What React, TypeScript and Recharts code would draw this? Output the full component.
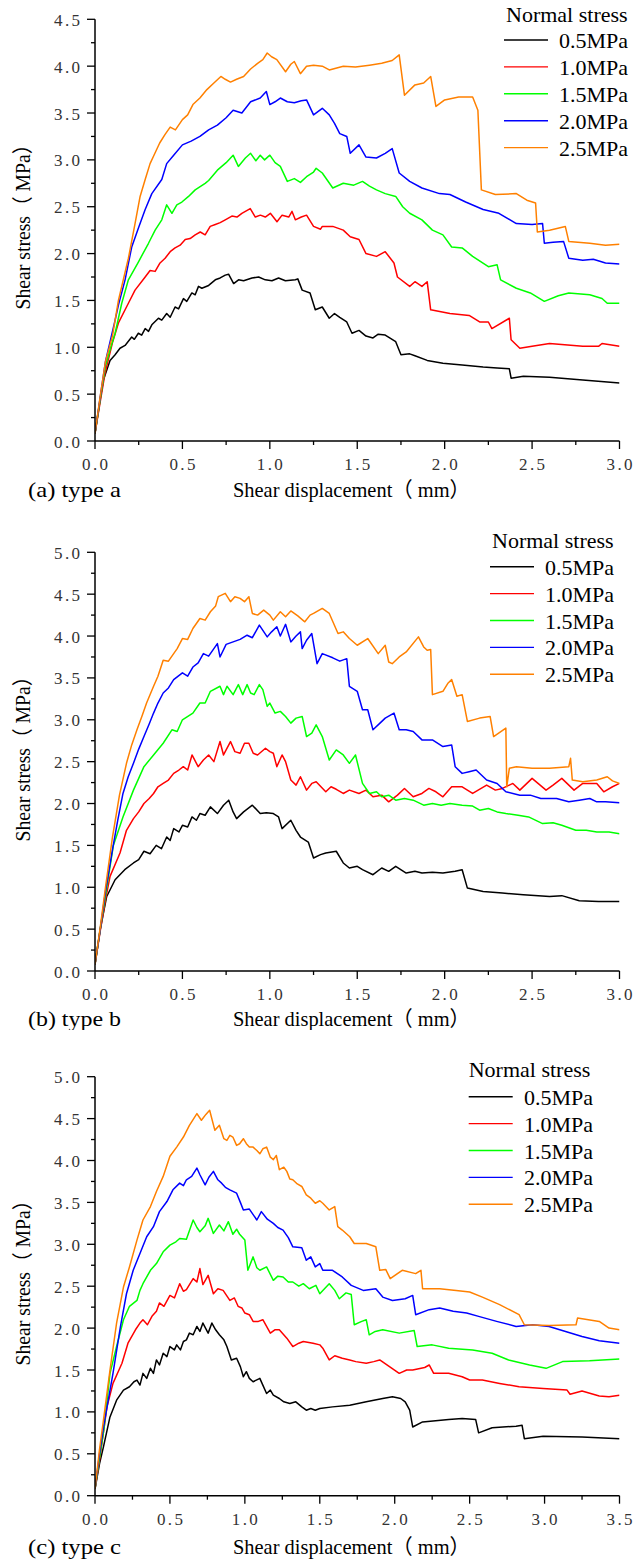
import { LineChart, Line, XAxis, YAxis, Label, Legend } from "recharts";

// Shear stress vs shear displacement, three joint types, five normal stresses each.
type Pt = [number, number];

const names = ["0.5MPa", "1.0MPa", "1.5MPa", "2.0MPa", "2.5MPa"];
const colors = ["#000000", "#ff0000", "#00ff00", "#0000ff", "#ff8000"];

// ---- (a) type a
const a05: Pt[] = [[0,0.08],[0.03,0.45],[0.048,0.65],[0.086,0.86],[0.115,0.92],[0.143,0.99],[0.172,1.02],[0.21,1.11],[0.225,1.085],[0.248,1.15],[0.267,1.13],[0.287,1.2],[0.306,1.17],[0.325,1.24],[0.363,1.31],[0.382,1.29],[0.41,1.36],[0.43,1.32],[0.458,1.43],[0.478,1.41],[0.506,1.52],[0.525,1.49],[0.554,1.58],[0.573,1.56],[0.592,1.65],[0.611,1.63],[0.65,1.66],[0.688,1.72],[0.716,1.74],[0.745,1.77],[0.764,1.78],[0.793,1.68],[0.821,1.72],[0.85,1.71],[0.898,1.74],[0.936,1.75],[0.974,1.72],[1.012,1.71],[1.05,1.74],[1.089,1.71],[1.146,1.72],[1.16,1.73],[1.185,1.61],[1.23,1.58],[1.26,1.4],[1.3,1.43],[1.34,1.31],[1.37,1.36],[1.4,1.32],[1.44,1.27],[1.47,1.15],[1.51,1.18],[1.55,1.12],[1.59,1.1],[1.62,1.14],[1.66,1.13],[1.72,1.06],[1.75,0.92],[1.8,0.93],[1.83,0.91],[1.9,0.86],[1.99,0.83],[2.1,0.81],[2.22,0.79],[2.3,0.78],[2.37,0.77],[2.38,0.67],[2.45,0.69],[2.6,0.68],[2.79,0.65],[3.0,0.62]];
const a10: Pt[] = [[0,0.08],[0.03,0.42],[0.057,0.72],[0.1,1.05],[0.134,1.26],[0.191,1.47],[0.229,1.61],[0.287,1.75],[0.315,1.82],[0.344,1.81],[0.372,1.9],[0.401,1.95],[0.43,2.02],[0.458,2.06],[0.487,2.09],[0.516,2.15],[0.544,2.16],[0.573,2.2],[0.602,2.23],[0.63,2.2],[0.659,2.29],[0.688,2.31],[0.716,2.33],[0.745,2.36],[0.783,2.4],[0.812,2.39],[0.84,2.43],[0.888,2.48],[0.917,2.39],[0.946,2.41],[0.974,2.39],[1.003,2.43],[1.041,2.34],[1.07,2.41],[1.108,2.39],[1.127,2.45],[1.146,2.36],[1.18,2.39],[1.21,2.41],[1.25,2.29],[1.29,2.26],[1.3,2.29],[1.36,2.29],[1.42,2.25],[1.46,2.18],[1.51,2.15],[1.55,2.0],[1.61,1.97],[1.66,2.02],[1.71,1.9],[1.73,1.75],[1.8,1.65],[1.83,1.7],[1.87,1.65],[1.9,1.7],[1.92,1.4],[2.03,1.36],[2.14,1.34],[2.2,1.27],[2.25,1.27],[2.27,1.2],[2.37,1.31],[2.38,1.08],[2.43,0.99],[2.5,1.01],[2.6,1.04],[2.79,1.01],[2.88,1.01],[2.9,1.04],[3.0,1.01]];
const a15: Pt[] = [[0,0.08],[0.03,0.45],[0.06,0.8],[0.09,1.0],[0.115,1.15],[0.153,1.47],[0.191,1.72],[0.248,1.91],[0.306,2.11],[0.344,2.25],[0.382,2.36],[0.41,2.52],[0.44,2.43],[0.468,2.52],[0.497,2.55],[0.535,2.61],[0.573,2.68],[0.63,2.75],[0.65,2.78],[0.7,2.89],[0.75,2.97],[0.79,3.05],[0.82,2.93],[0.86,3.02],[0.89,3.07],[0.92,2.99],[0.945,3.05],[0.97,3.0],[1.0,3.05],[1.03,2.97],[1.06,2.93],[1.1,2.77],[1.14,2.8],[1.175,2.76],[1.21,2.82],[1.25,2.87],[1.265,2.91],[1.3,2.86],[1.36,2.7],[1.42,2.75],[1.48,2.73],[1.53,2.77],[1.57,2.72],[1.61,2.68],[1.66,2.64],[1.72,2.61],[1.76,2.5],[1.8,2.43],[1.87,2.36],[1.93,2.25],[1.99,2.2],[2.04,2.07],[2.1,2.06],[2.16,1.97],[2.25,1.86],[2.3,1.88],[2.32,1.72],[2.41,1.63],[2.49,1.58],[2.57,1.49],[2.65,1.55],[2.71,1.58],[2.83,1.56],[2.9,1.52],[2.93,1.47],[3.0,1.47]];
const a20: Pt[] = [[0,0.08],[0.03,0.47],[0.06,0.85],[0.115,1.29],[0.134,1.45],[0.172,1.72],[0.21,2.07],[0.248,2.27],[0.287,2.47],[0.325,2.64],[0.382,2.79],[0.41,2.96],[0.45,3.05],[0.5,3.16],[0.55,3.2],[0.6,3.25],[0.65,3.32],[0.7,3.37],[0.75,3.45],[0.79,3.53],[0.84,3.5],[0.89,3.62],[0.945,3.66],[0.98,3.73],[1.0,3.59],[1.03,3.62],[1.06,3.66],[1.1,3.62],[1.14,3.61],[1.18,3.63],[1.21,3.64],[1.25,3.48],[1.3,3.55],[1.34,3.48],[1.37,3.39],[1.4,3.28],[1.44,3.25],[1.46,3.07],[1.51,3.16],[1.55,3.03],[1.61,3.02],[1.66,3.07],[1.7,3.12],[1.74,2.86],[1.8,2.77],[1.87,2.7],[1.97,2.64],[2.03,2.63],[2.12,2.55],[2.22,2.47],[2.31,2.43],[2.41,2.32],[2.5,2.31],[2.56,2.32],[2.57,2.11],[2.62,2.12],[2.68,2.13],[2.71,1.95],[2.79,1.93],[2.85,1.94],[2.92,1.9],[3.0,1.89]];
const a25: Pt[] = [[0,0.08],[0.03,0.48],[0.06,0.85],[0.1,1.12],[0.134,1.5],[0.191,1.95],[0.229,2.32],[0.258,2.61],[0.287,2.79],[0.315,2.96],[0.34,3.06],[0.37,3.18],[0.4,3.27],[0.43,3.35],[0.46,3.32],[0.5,3.43],[0.53,3.48],[0.56,3.59],[0.6,3.66],[0.64,3.75],[0.68,3.82],[0.72,3.89],[0.745,3.86],[0.775,3.83],[0.81,3.86],[0.85,3.89],[0.89,3.97],[0.93,4.03],[0.96,4.07],[0.985,4.14],[1.01,4.1],[1.04,4.07],[1.09,3.94],[1.12,4.02],[1.14,4.05],[1.175,3.92],[1.21,4.0],[1.25,4.01],[1.3,4.0],[1.34,3.96],[1.42,4.0],[1.49,3.99],[1.57,4.01],[1.64,4.03],[1.7,4.06],[1.74,4.12],[1.77,3.69],[1.83,3.8],[1.88,3.82],[1.92,3.89],[1.95,3.57],[2.0,3.64],[2.08,3.67],[2.16,3.67],[2.19,3.53],[2.21,2.68],[2.29,2.63],[2.41,2.64],[2.47,2.57],[2.52,2.54],[2.53,2.23],[2.6,2.25],[2.69,2.29],[2.71,2.13],[2.83,2.11],[2.92,2.09],[3.0,2.1]];

// ---- (b) type b
const b05: Pt[] = [[0,0.08],[0.03,0.5],[0.067,0.89],[0.115,1.09],[0.17,1.21],[0.22,1.29],[0.25,1.33],[0.28,1.43],[0.315,1.4],[0.35,1.5],[0.38,1.46],[0.41,1.6],[0.43,1.56],[0.45,1.7],[0.48,1.66],[0.5,1.74],[0.53,1.72],[0.555,1.84],[0.58,1.8],[0.6,1.88],[0.63,1.86],[0.66,1.96],[0.7,1.88],[0.735,1.98],[0.765,2.04],[0.79,1.9],[0.81,1.82],[0.85,1.9],[0.9,1.98],[0.945,1.88],[0.98,1.89],[1.02,1.88],[1.05,1.84],[1.07,1.7],[1.12,1.8],[1.15,1.68],[1.175,1.6],[1.22,1.54],[1.25,1.35],[1.29,1.39],[1.32,1.41],[1.38,1.43],[1.42,1.29],[1.455,1.23],[1.5,1.25],[1.53,1.21],[1.59,1.15],[1.64,1.23],[1.68,1.19],[1.72,1.25],[1.78,1.17],[1.83,1.19],[1.87,1.17],[1.93,1.18],[1.99,1.17],[2.06,1.19],[2.1,1.21],[2.13,0.99],[2.22,0.95],[2.33,0.93],[2.45,0.91],[2.6,0.89],[2.67,0.9],[2.77,0.84],[2.88,0.83],[3.0,0.83]];
const b10: Pt[] = [[0,0.08],[0.03,0.48],[0.06,0.85],[0.086,1.13],[0.143,1.41],[0.18,1.68],[0.22,1.82],[0.25,1.9],[0.28,2.0],[0.31,2.06],[0.335,2.12],[0.36,2.2],[0.39,2.24],[0.42,2.28],[0.45,2.36],[0.48,2.4],[0.505,2.44],[0.53,2.4],[0.555,2.58],[0.59,2.44],[0.62,2.52],[0.65,2.58],[0.68,2.5],[0.715,2.74],[0.735,2.58],[0.775,2.74],[0.8,2.62],[0.83,2.6],[0.855,2.72],[0.88,2.72],[0.905,2.6],[0.93,2.58],[0.975,2.66],[1.0,2.62],[1.02,2.6],[1.04,2.44],[1.07,2.58],[1.09,2.5],[1.12,2.28],[1.15,2.22],[1.175,2.32],[1.21,2.16],[1.24,2.24],[1.265,2.26],[1.32,2.14],[1.35,2.2],[1.38,2.17],[1.42,2.12],[1.455,2.16],[1.51,2.12],[1.55,2.16],[1.59,2.08],[1.64,2.1],[1.68,2.02],[1.73,2.1],[1.77,2.18],[1.82,2.08],[1.87,2.12],[1.91,2.18],[1.95,2.14],[1.99,2.08],[2.04,2.2],[2.1,2.2],[2.16,2.12],[2.24,2.22],[2.29,2.16],[2.33,2.18],[2.39,2.24],[2.43,2.16],[2.5,2.3],[2.58,2.16],[2.62,2.22],[2.67,2.3],[2.74,2.16],[2.79,2.24],[2.87,2.24],[2.91,2.14],[2.96,2.2],[3.0,2.24]];
const b15: Pt[] = [[0,0.08],[0.03,0.5],[0.06,0.9],[0.105,1.5],[0.16,1.84],[0.22,2.16],[0.28,2.44],[0.335,2.58],[0.39,2.72],[0.44,2.88],[0.47,2.86],[0.5,3.0],[0.56,3.08],[0.6,3.2],[0.63,3.2],[0.66,3.34],[0.715,3.4],[0.735,3.3],[0.755,3.4],[0.79,3.3],[0.82,3.42],[0.845,3.3],[0.87,3.42],[0.89,3.32],[0.91,3.3],[0.94,3.42],[0.96,3.36],[0.985,3.16],[1.0,3.2],[1.03,3.08],[1.06,3.1],[1.09,3.04],[1.12,2.96],[1.15,3.02],[1.185,3.04],[1.21,2.8],[1.24,2.84],[1.265,2.94],[1.3,2.8],[1.34,2.52],[1.38,2.64],[1.42,2.58],[1.455,2.48],[1.49,2.58],[1.53,2.24],[1.57,2.12],[1.61,2.14],[1.64,2.08],[1.68,2.1],[1.72,2.04],[1.77,2.06],[1.82,2.04],[1.88,1.98],[1.93,2.0],[1.98,1.98],[2.03,2.0],[2.1,1.98],[2.16,1.97],[2.2,1.92],[2.25,1.94],[2.3,1.9],[2.35,1.88],[2.42,1.86],[2.48,1.84],[2.56,1.76],[2.62,1.77],[2.67,1.74],[2.75,1.68],[2.81,1.68],[2.87,1.66],[2.94,1.66],[3.0,1.64]];
const b20: Pt[] = [[0,0.08],[0.03,0.5],[0.06,0.95],[0.1,1.45],[0.13,1.8],[0.16,2.12],[0.19,2.32],[0.22,2.48],[0.25,2.65],[0.28,2.8],[0.31,2.95],[0.335,3.08],[0.36,3.2],[0.39,3.32],[0.42,3.38],[0.45,3.48],[0.5,3.56],[0.53,3.52],[0.56,3.63],[0.59,3.68],[0.62,3.79],[0.65,3.76],[0.7,3.91],[0.715,3.75],[0.75,3.9],[0.79,3.93],[0.83,3.96],[0.87,4.01],[0.9,3.98],[0.94,4.13],[0.985,3.99],[1.01,4.05],[1.04,4.11],[1.06,4.0],[1.09,4.14],[1.12,3.93],[1.15,4.0],[1.175,4.05],[1.185,3.85],[1.21,3.95],[1.24,4.03],[1.27,3.67],[1.3,3.79],[1.36,3.74],[1.4,3.7],[1.44,3.73],[1.455,3.4],[1.5,3.34],[1.53,3.12],[1.56,3.12],[1.59,2.88],[1.63,2.96],[1.66,3.02],[1.71,3.08],[1.74,2.88],[1.78,2.88],[1.82,2.86],[1.87,2.76],[1.93,2.76],[1.99,2.68],[2.04,2.7],[2.06,2.44],[2.1,2.36],[2.14,2.38],[2.18,2.4],[2.24,2.28],[2.3,2.24],[2.35,2.14],[2.43,2.1],[2.49,2.1],[2.55,2.06],[2.64,2.06],[2.71,2.02],[2.77,2.04],[2.83,2.06],[2.87,2.02],[2.92,2.02],[3.0,2.01]];
const b25: Pt[] = [[0,0.08],[0.03,0.52],[0.06,1.0],[0.1,1.6],[0.14,2.1],[0.18,2.48],[0.21,2.7],[0.24,2.88],[0.27,3.05],[0.295,3.2],[0.335,3.4],[0.36,3.52],[0.39,3.71],[0.42,3.7],[0.45,3.79],[0.47,3.85],[0.5,3.97],[0.53,3.96],[0.56,4.09],[0.6,4.21],[0.63,4.19],[0.66,4.29],[0.69,4.36],[0.705,4.47],[0.745,4.51],[0.775,4.41],[0.8,4.47],[0.83,4.45],[0.855,4.41],[0.88,4.47],[0.9,4.27],[0.93,4.25],[0.965,4.31],[1.0,4.25],[1.02,4.19],[1.06,4.29],[1.09,4.23],[1.12,4.3],[1.16,4.24],[1.2,4.17],[1.23,4.25],[1.25,4.27],[1.3,4.33],[1.34,4.27],[1.39,4.03],[1.42,4.05],[1.455,3.97],[1.5,3.89],[1.56,3.97],[1.62,3.79],[1.66,3.89],[1.68,3.69],[1.7,3.67],[1.74,3.75],[1.78,3.81],[1.85,3.99],[1.88,3.87],[1.9,3.83],[1.92,3.84],[1.93,3.3],[1.99,3.34],[2.02,3.44],[2.04,3.48],[2.07,3.28],[2.1,3.3],[2.13,2.98],[2.2,3.02],[2.26,3.04],[2.28,2.8],[2.35,2.9],[2.355,2.2],[2.37,2.42],[2.41,2.44],[2.5,2.42],[2.6,2.42],[2.71,2.44],[2.72,2.54],[2.73,2.28],[2.79,2.26],[2.87,2.28],[2.93,2.32],[2.96,2.27],[3.0,2.24]];

// ---- (c) type c
const c05: Pt[] = [[0,0.08],[0.03,0.38],[0.056,0.58],[0.1,0.94],[0.144,1.14],[0.19,1.26],[0.23,1.3],[0.26,1.36],[0.28,1.38],[0.3,1.32],[0.32,1.46],[0.345,1.4],[0.37,1.52],[0.39,1.46],[0.41,1.62],[0.43,1.56],[0.455,1.7],[0.48,1.66],[0.5,1.78],[0.53,1.74],[0.545,1.8],[0.57,1.74],[0.59,1.84],[0.61,1.86],[0.63,1.94],[0.655,1.92],[0.68,2.02],[0.7,1.96],[0.72,2.06],[0.755,1.94],[0.78,2.06],[0.805,1.98],[0.83,1.92],[0.86,1.86],[0.88,1.78],[0.91,1.62],[0.945,1.64],[0.97,1.54],[0.99,1.42],[1.01,1.48],[1.03,1.4],[1.055,1.36],[1.1,1.4],[1.12,1.32],[1.145,1.22],[1.17,1.26],[1.19,1.2],[1.23,1.16],[1.26,1.12],[1.3,1.1],[1.34,1.12],[1.38,1.06],[1.41,1.02],[1.44,1.04],[1.47,1.02],[1.5,1.04],[1.585,1.06],[1.7,1.08],[1.81,1.12],[1.92,1.16],[1.985,1.18],[2.04,1.16],[2.07,1.12],[2.1,1.02],[2.12,0.82],[2.186,0.88],[2.36,0.91],[2.45,0.92],[2.54,0.91],[2.56,0.75],[2.65,0.81],[2.81,0.83],[2.85,0.84],[2.865,0.68],[2.99,0.71],[3.25,0.7],[3.5,0.68]];
const c10: Pt[] = [[0,0.08],[0.03,0.42],[0.08,1.06],[0.12,1.34],[0.18,1.58],[0.22,1.82],[0.27,1.98],[0.3,2.06],[0.32,2.1],[0.35,2.04],[0.38,2.14],[0.41,2.2],[0.43,2.3],[0.46,2.26],[0.5,2.39],[0.53,2.36],[0.565,2.53],[0.59,2.44],[0.61,2.46],[0.655,2.59],[0.68,2.55],[0.7,2.71],[0.72,2.52],[0.755,2.63],[0.79,2.41],[0.82,2.47],[0.855,2.45],[0.9,2.33],[0.93,2.36],[0.955,2.26],[0.98,2.24],[1.0,2.18],[1.03,2.16],[1.055,2.08],[1.09,2.08],[1.12,2.1],[1.17,1.94],[1.2,1.98],[1.23,1.98],[1.28,1.88],[1.32,1.78],[1.36,1.82],[1.39,1.84],[1.455,1.82],[1.5,1.8],[1.52,1.76],[1.563,1.62],[1.6,1.67],[1.65,1.64],[1.7,1.62],[1.74,1.6],[1.81,1.58],[1.86,1.6],[1.9,1.62],[1.965,1.54],[2.03,1.46],[2.08,1.5],[2.12,1.5],[2.2,1.53],[2.23,1.56],[2.26,1.46],[2.36,1.46],[2.45,1.42],[2.5,1.38],[2.585,1.38],[2.7,1.34],[2.83,1.3],[2.99,1.28],[3.15,1.26],[3.17,1.21],[3.25,1.25],[3.365,1.19],[3.43,1.18],[3.5,1.2]];
const c15: Pt[] = [[0,0.08],[0.03,0.45],[0.06,0.8],[0.1,1.46],[0.144,1.78],[0.19,2.1],[0.23,2.26],[0.28,2.33],[0.3,2.45],[0.32,2.53],[0.37,2.69],[0.41,2.77],[0.455,2.91],[0.5,2.99],[0.54,3.03],[0.565,3.07],[0.61,3.06],[0.655,3.29],[0.68,3.2],[0.7,3.15],[0.735,3.22],[0.755,3.31],[0.79,3.13],[0.83,3.23],[0.86,3.16],[0.89,3.27],[0.92,3.12],[0.945,3.18],[0.965,3.12],[1.0,3.05],[1.02,2.69],[1.055,2.85],[1.08,2.72],[1.1,2.69],[1.145,2.73],[1.19,2.57],[1.22,2.62],[1.255,2.61],[1.29,2.55],[1.32,2.55],[1.36,2.5],[1.39,2.53],[1.43,2.47],[1.474,2.51],[1.5,2.41],[1.563,2.53],[1.6,2.45],[1.63,2.35],[1.675,2.42],[1.71,2.4],[1.73,2.04],[1.78,2.08],[1.81,2.1],[1.83,1.92],[1.87,1.96],[1.92,1.98],[2.03,1.94],[2.13,1.97],[2.15,1.78],[2.25,1.8],[2.36,1.76],[2.52,1.74],[2.65,1.7],[2.76,1.62],[2.9,1.56],[3.01,1.52],[3.12,1.6],[3.3,1.61],[3.5,1.63]];
const c20: Pt[] = [[0,0.08],[0.03,0.5],[0.06,0.85],[0.12,1.46],[0.17,2.02],[0.21,2.41],[0.255,2.69],[0.3,2.89],[0.345,3.09],[0.39,3.21],[0.43,3.39],[0.48,3.51],[0.52,3.65],[0.565,3.73],[0.59,3.7],[0.61,3.77],[0.645,3.81],[0.68,3.91],[0.7,3.83],[0.735,3.71],[0.76,3.8],[0.79,3.87],[0.82,3.77],[0.845,3.73],[0.87,3.68],[0.9,3.65],[0.945,3.61],[0.97,3.5],[0.99,3.41],[1.03,3.42],[1.08,3.29],[1.11,3.39],[1.15,3.3],[1.19,3.25],[1.22,3.2],[1.255,3.17],[1.29,3.08],[1.32,2.97],[1.38,2.96],[1.41,2.81],[1.44,2.85],[1.47,2.73],[1.5,2.77],[1.52,2.69],[1.585,2.69],[1.65,2.61],[1.71,2.51],[1.79,2.45],[1.874,2.47],[1.92,2.37],[1.985,2.33],[2.07,2.35],[2.12,2.39],[2.14,2.16],[2.23,2.22],[2.3,2.24],[2.39,2.2],[2.48,2.18],[2.56,2.14],[2.68,2.08],[2.81,2.02],[2.92,2.04],[3.03,2.02],[3.14,1.96],[3.25,1.9],[3.365,1.85],[3.5,1.82]];
const c25: Pt[] = [[0,0.08],[0.03,0.55],[0.06,0.95],[0.1,1.5],[0.144,2.06],[0.19,2.49],[0.23,2.73],[0.28,3.05],[0.32,3.29],[0.37,3.45],[0.41,3.63],[0.455,3.81],[0.5,4.05],[0.545,4.16],[0.59,4.28],[0.63,4.42],[0.68,4.56],[0.71,4.48],[0.74,4.55],[0.765,4.6],[0.8,4.36],[0.83,4.42],[0.86,4.26],[0.88,4.24],[0.9,4.3],[0.92,4.28],[0.945,4.18],[0.965,4.2],[0.99,4.26],[1.01,4.2],[1.03,4.16],[1.055,4.16],[1.08,4.12],[1.1,4.08],[1.12,4.14],[1.145,4.16],[1.17,4.04],[1.19,4.01],[1.21,4.06],[1.23,3.89],[1.26,3.92],[1.28,3.87],[1.3,3.78],[1.32,3.77],[1.35,3.72],[1.38,3.69],[1.41,3.59],[1.44,3.55],[1.47,3.49],[1.5,3.52],[1.52,3.49],[1.563,3.41],[1.6,3.45],[1.62,3.21],[1.65,3.17],[1.7,3.09],[1.73,3.01],[1.81,3.01],[1.874,2.97],[1.9,2.69],[1.94,2.7],[1.97,2.59],[2.05,2.69],[2.14,2.65],[2.175,2.69],[2.186,2.47],[2.3,2.47],[2.41,2.45],[2.5,2.43],[2.585,2.37],[2.7,2.28],[2.83,2.16],[2.865,2.04],[3.03,2.03],[3.21,2.04],[3.22,2.12],[3.365,2.08],[3.43,2.0],[3.5,1.98]];

const SERIF = '"Liberation Serif", "Times New Roman", "Noto Sans CJK SC", serif';
const W = 636;

const toRows = (pts: Pt[]) => pts.map(([x, y]) => ({ x, y }));
const steps = (max: number) => Array.from({ length: Math.round(max / 0.25) + 1 }, (_, i) => i * 0.25);
const isMajor = (v: number) => Math.abs(v * 2 - Math.round(v * 2)) < 1e-6;

function XTick({ x, y, payload }: any) {
  const v = payload.value as number;
  const major = isMajor(v);
  return (
    <g>
      <line x1={x} x2={x} y1={y} y2={y + (major ? 8 : 4)} stroke="#000" strokeWidth={1.3} />
      {major && (
        <text x={x} y={y + 29} textAnchor="middle" fontFamily={SERIF} fontSize={17} fill="#333"
          textLength={26} lengthAdjust="spacing">{v.toFixed(1)}</text>
      )}
    </g>
  );
}

function YTick({ x, y, payload }: any) {
  const v = payload.value as number;
  const major = isMajor(v);
  return (
    <g>
      <line x1={x - (major ? 8 : 4)} x2={x} y1={y} y2={y} stroke="#000" strokeWidth={1.3} />
      {major && (
        <text x={x - 15} y={y + 6.5} textAnchor="end" fontFamily={SERIF} fontSize={17} fill="#333"
          textLength={26} lengthAdjust="spacing">{v.toFixed(1)}</text>
      )}
    </g>
  );
}

type Panel = {
  top: number; height: number; plotTop: number; axisH: number;
  xMax: number; yMax: number; series: Pt[][];
  tag: string; baseline: number; yTitleMid: number;
  legLine: number; legText: number; legTitleX: number; legTitleBase: number; legFirst: number;
};

const panels: Panel[] = [
  { top: 0, height: 510, plotTop: 19.3, axisH: 69, xMax: 3, yMax: 4.5, series: [a05, a10, a15, a20, a25],
    tag: "(a) type a", baseline: 497, yTitleMid: 222,
    legLine: 504, legText: 559, legTitleX: 506, legTitleBase: 22, legFirst: 40 },
  { top: 510, height: 520, plotTop: 42.3, axisH: 59, xMax: 3, yMax: 5, series: [b05, b10, b15, b20, b25],
    tag: "(b) type b", baseline: 516, yTitleMid: 244,
    legLine: 490, legText: 545, legTitleX: 492, legTitleBase: 38, legFirst: 56.7 },
  { top: 1040, height: 528, plotTop: 36.7, axisH: 72.3, xMax: 3.5, yMax: 5, series: [c05, c10, c15, c20, c25],
    tag: "(c) type c", baseline: 514, yTitleMid: 238,
    legLine: 468.7, legText: 524, legTitleX: 468.7, legTitleBase: 37, legFirst: 56.7 },
];

function LegendBox({ p }: { p: Panel }) {
  return (
    <svg width={W} height={200} style={{ position: "absolute", left: 0, top: 0, overflow: "visible", pointerEvents: "none" }}>
      <text x={p.legTitleX} y={p.legTitleBase} fontFamily={SERIF} fontSize={22} fill="#000">Normal stress</text>
      {names.map((n, i) => {
        const cy = p.legFirst + i * 26.9;
        return (
          <g key={n}>
            <line x1={p.legLine} x2={p.legLine + 44} y1={cy} y2={cy} stroke={colors[i]} strokeWidth={1.4} />
            <text x={p.legText} y={cy + 8} fontFamily={SERIF} fontSize={22} fill="#000">{n}</text>
          </g>
        );
      })}
    </svg>
  );
}

function ShearPanel({ p }: { p: Panel }) {
  return (
    <div style={{ position: "absolute", left: 0, top: p.top, width: W, height: p.height }}>
      <LineChart width={W} height={p.height} margin={{ top: p.plotTop, right: 16.5, bottom: 0, left: 0 }}>
        <XAxis dataKey="x" type="number" domain={[0, p.xMax]} ticks={steps(p.xMax)} interval={0}
          height={p.axisH} tickSize={0} tickMargin={0} tick={<XTick />} tickLine={false}
          axisLine={{ stroke: "#000", strokeWidth: 1.5 }} allowDataOverflow>
          <Label content={() => (
            <g>
              <text x={28} y={p.baseline} fontFamily={SERIF} fontSize={22} fill="#000"
                textLength={93} lengthAdjust="spacingAndGlyphs">{p.tag}</text>
              <text x={233} y={p.baseline} fontFamily={SERIF} fontSize={21} fill="#000"
                textLength={237} lengthAdjust="spacingAndGlyphs">Shear displacement（ mm）</text>
            </g>
          )} />
        </XAxis>
        <YAxis type="number" domain={[0, p.yMax]} ticks={steps(p.yMax)} interval={0}
          width={95} tickSize={0} tickMargin={0} tick={<YTick />} tickLine={false}
          axisLine={{ stroke: "#000", strokeWidth: 1.5 }} allowDataOverflow>
          <Label content={() => (
            <text x={30} y={p.yTitleMid} transform={`rotate(-90, 30, ${p.yTitleMid})`} textAnchor="middle"
              fontFamily={SERIF} fontSize={21} fill="#000" textLength={175}
              lengthAdjust="spacingAndGlyphs">Shear stress（ MPa）</text>
          )} />
        </YAxis>
        <Legend layout="horizontal" verticalAlign="middle" align="center"
          wrapperStyle={{ position: "absolute", left: 0, top: 0, width: 0, height: 0 }}
          content={() => <LegendBox p={p} />} />
        {p.series.map((s, i) => (
          <Line key={names[i]} data={toRows(s)} dataKey="y" name={names[i]} type="linear" dot={false}
            stroke={colors[i]} strokeWidth={1.5} strokeLinejoin="round" isAnimationActive={false} />
        ))}
      </LineChart>
    </div>
  );
}

export default function App() {
  return (
    <div style={{ position: "absolute", left: 0, top: 0, width: W, height: 1568, background: "#fff" }}>
      {panels.map((p) => <ShearPanel key={p.tag} p={p} />)}
    </div>
  );
}
